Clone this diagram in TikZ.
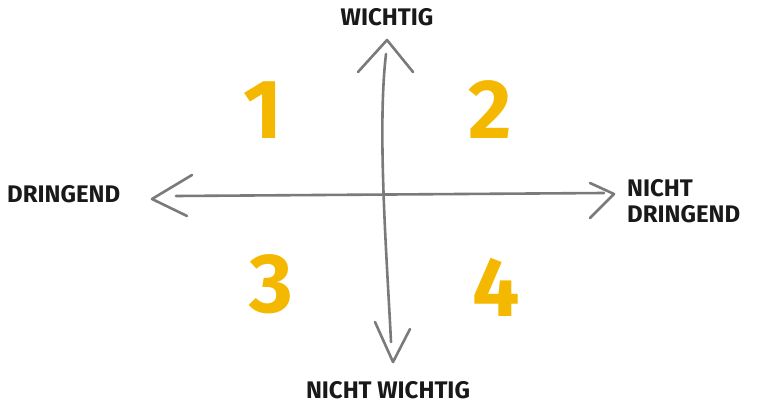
\documentclass[tikz,border=0pt]{standalone}
\usepackage{fontspec}
\setmainfont{Fira Sans}
\definecolor{axisgray}{HTML}{7A7A7A}
\definecolor{quadyellow}{HTML}{F5B800}

\begin{document}
\begin{tikzpicture}[x=1pt,y=-1pt,
  axis/.style={draw=axisgray,line width=2.6pt,line cap=round,line join=round},
  axislabel/.style={font=\fontsize{24}{26}\selectfont\bfseries,text=black!90,inner sep=0pt},
  quadnum/.style={font=\fontsize{84}{84}\selectfont\bfseries,text=quadyellow,inner sep=0pt}]
  \useasboundingbox (0,0) rectangle (762,406);
  % Pfeilspitzen und Achsenenden
  \coordinate (top) at (387,40);
  \coordinate (bot) at (393,362);
  \coordinate (lft) at (152,199);
  \coordinate (rgt) at (614,194);
  \coordinate (topend) at (386,54);
  \coordinate (botend) at (391,342);
  \coordinate (lftend) at (176,196);
  \coordinate (rgtend) at (604,193);
  % Achsen
  \draw[axis] (topend) .. controls (377,130) and (387,260) .. (botend);
  \draw[axis] (lftend) -- (rgtend);
  % offene Pfeilspitzen
  \draw[axis] (top) ++(-29,32) -- (top) -- ++(26,32);
  \draw[axis] (bot) ++(-18,-40) -- (bot) -- ++(17,-33);
  \draw[axis] (lft) ++(40,-24) -- (lft) -- ++(35,17);
  \draw[axis] (rgt) ++(-24,-11) -- (rgt) -- ++(-24,24);
  % Beschriftung
  \node[axislabel] (wichtig) at (387,17) {WICHTIG};
  \node[axislabel,anchor=west] (dringend) at (7,194) {DRINGEND};
  \node[axislabel,align=left,anchor=west] (nichtdringend) at (627,201) {NICHT\\DRINGEND};
  \node[axislabel] (nichtwichtig) at (388,390) {NICHT WICHTIG};
  % Quadranten
  \node[quadnum] (q1) at (263,110) {1};
  \node[quadnum] (q2) at (490,110) {2};
  \node[quadnum] (q3) at (271,284) {3};
  \node[quadnum] (q4) at (496,287) {4};
\end{tikzpicture}
\end{document}
